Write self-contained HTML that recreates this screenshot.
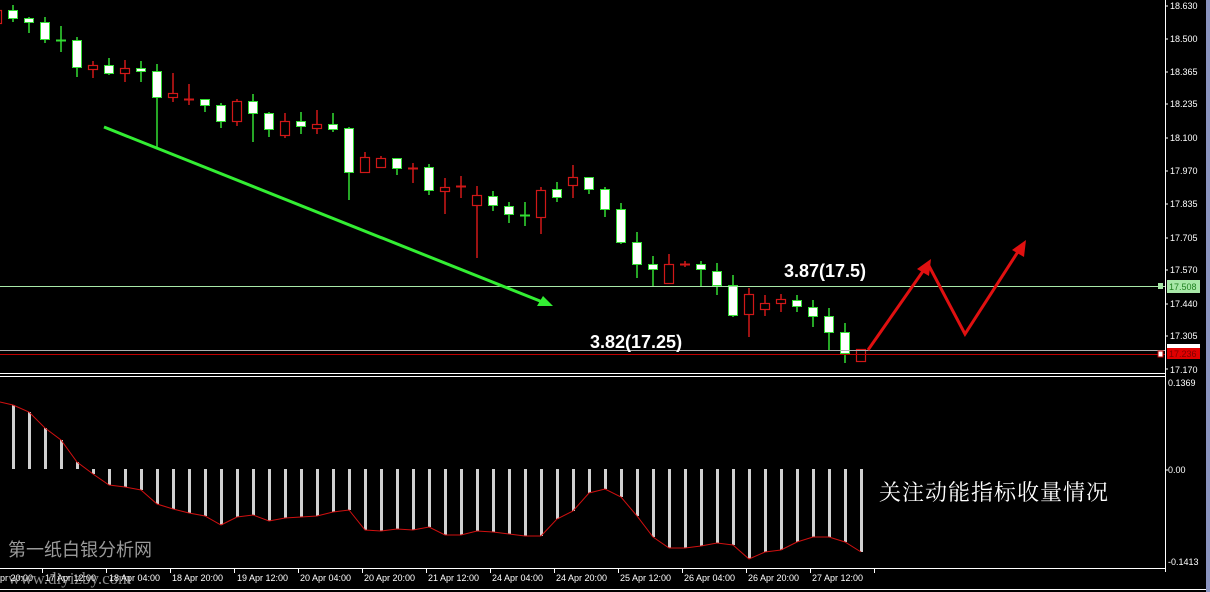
<!DOCTYPE html>
<html><head><meta charset="utf-8"><style>
html,body{margin:0;padding:0;background:#000;}
svg{display:block;font-family:"Liberation Sans","Noto Sans CJK SC",sans-serif;}
</style></head><body>
<svg id="s" width="1210" height="592" viewBox="0 0 1210 592" xmlns="http://www.w3.org/2000/svg">
<rect width="1210" height="592" fill="#000"/>
<rect x="1206" y="0" width="4" height="592" fill="#8c94c0"/>
<g id="hist"></g>
<g id="cand"></g>
<line x1="0" y1="286.5" x2="1165" y2="286.5" stroke="#a8e8a8" stroke-width="1"/>
<line x1="0" y1="350.5" x2="1165" y2="350.5" stroke="#b0b0b0" stroke-width="1"/>
<line x1="0" y1="354.5" x2="1165" y2="354.5" stroke="#c00000" stroke-width="1"/>
<rect x="1158" y="283" width="5" height="6" fill="#a8e8a8"/>
<rect x="1158" y="351" width="5" height="6" fill="#fff" stroke="#c00000"/>
<line x1="1165.5" y1="0" x2="1165.5" y2="572" stroke="#fff"/>
<line x1="0" y1="373.5" x2="1165" y2="373.5" stroke="#fff"/>
<line x1="0" y1="376.5" x2="1165" y2="376.5" stroke="#fff"/>
<line x1="0" y1="568.5" x2="1165" y2="568.5" stroke="#fff"/>
<line x1="0" y1="589.5" x2="1206" y2="589.5" stroke="#fff"/>
<line x1="104" y1="127" x2="545" y2="303" stroke="#33ee33" stroke-width="3"/>
<polygon points="553,306 537,306 543,296" fill="#33ee33"/>
<polyline points="868,350 928,264 965,334 1021,247" fill="none" stroke="#e01010" stroke-width="3"/>
<polygon points="931,259 929,276 917,269" fill="#e01010"/>
<polygon points="1026,240 1024,257 1012,250" fill="#e01010"/>
<text x="784" y="277" fill="#fff" font-size="18" font-weight="bold">3.87(17.5)</text>
<text x="590" y="348" fill="#fff" font-size="18" font-weight="bold">3.82(17.25)</text>
<text x="879" y="500" fill="#fff" font-size="22" font-family="'Noto Serif CJK SC',serif" textLength="229">关注动能指标收量情况</text>
<text x="8" y="556" fill="#9a9a9a" font-size="18" textLength="144">第一纸白银分析网</text>
<text x="8" y="584" fill="#8a8a8a" font-size="17" font-family="'Liberation Serif',serif">www.diyizby.com</text>
<g fill="#fff" font-size="9">
<text x="1170" y="9">18.630</text>
<text x="1170" y="42">18.500</text>
<text x="1170" y="75">18.365</text>
<text x="1170" y="107">18.235</text>
<text x="1170" y="141">18.100</text>
<text x="1170" y="174">17.970</text>
<text x="1170" y="207">17.835</text>
<text x="1170" y="241">17.705</text>
<text x="1170" y="273">17.570</text>
<text x="1170" y="307">17.440</text>
<text x="1170" y="339">17.305</text>
<text x="1170" y="373">17.170</text>
<text x="1168" y="386">0.1369</text>
<text x="1168" y="473">0.00</text>
<text x="1168" y="565">-0.1413</text>
</g>
<g stroke="#fff">
<line x1="1165" y1="6" x2="1168" y2="6"/><line x1="1165" y1="39" x2="1168" y2="39"/><line x1="1165" y1="72" x2="1168" y2="72"/><line x1="1165" y1="104" x2="1168" y2="104"/><line x1="1165" y1="138" x2="1168" y2="138"/><line x1="1165" y1="171" x2="1168" y2="171"/><line x1="1165" y1="204" x2="1168" y2="204"/><line x1="1165" y1="238" x2="1168" y2="238"/><line x1="1165" y1="270" x2="1168" y2="270"/><line x1="1165" y1="304" x2="1168" y2="304"/><line x1="1165" y1="336" x2="1168" y2="336"/><line x1="1165" y1="369" x2="1168" y2="369"/><line x1="1165" y1="470" x2="1168" y2="470"/>
</g>
<rect x="1167" y="280" width="33" height="13" fill="#a8e8a8"/>
<text x="1169" y="290" fill="#208020" font-size="9">17.508</text>
<rect x="1167" y="344" width="33" height="5" fill="#fff"/>
<rect x="1167" y="348" width="33" height="11" fill="#e00000"/>
<text x="1169" y="357" fill="#800000" font-size="9">17.236</text>
<g fill="#fff" font-size="9">
<text x="-6" y="581">Apr 20:00</text>
<text x="45" y="581">17 Apr 12:00</text>
<text x="109" y="581">18 Apr 04:00</text>
<text x="172" y="581">18 Apr 20:00</text>
<text x="237" y="581">19 Apr 12:00</text>
<text x="300" y="581">20 Apr 04:00</text>
<text x="364" y="581">20 Apr 20:00</text>
<text x="428" y="581">21 Apr 12:00</text>
<text x="492" y="581">24 Apr 04:00</text>
<text x="556" y="581">24 Apr 20:00</text>
<text x="620" y="581">25 Apr 12:00</text>
<text x="684" y="581">26 Apr 04:00</text>
<text x="748" y="581">26 Apr 20:00</text>
<text x="812" y="581">27 Apr 12:00</text>
</g>
<g id="ticks" stroke="#fff"></g>
</svg>
<script>
var NS="http://www.w3.org/2000/svg";
function el(p,t,a){var e=document.createElementNS(NS,t);for(var k in a)e.setAttribute(k,a[k]);p.appendChild(e);return e;}
var tk=document.getElementById('ticks');
for(var x=42;x<880;x+=64){el(tk,'line',{x1:x+.5,y1:568,x2:x+.5,y2:573});}
var hy=[405,412,428,440,462,474,485,487,490,504,509,513,516,525,517,515,521,518,517,516,512,510,530,531,529,530,527,535,535,531,532,534,536,536,519,511,493,489,497,516,537,548,548,546,543,545,559,552,550,542,537,537,542,552];
var h=document.getElementById('hist');var pts=[];
for(var i=0;i<hy.length;i++){var x=13+16*i;var y=hy[i];
 el(h,'rect',{x:x-1,y:(y<469?y:469),width:3,height:Math.abs(y-469),fill:'#d0d0d0'});pts.push(x+','+y);}
el(h,'polyline',{points:'0,402 '+pts.join(' '),fill:'none',stroke:'#d01010','stroke-width':1});
var C=[[-3,'r',10,23,6,24],[13,'w',10,18,5,22],[29,'w',18,22,17,33],[45,'w',22,39,17,43],[61,'g',40,40,26,52],[77,'w',40,67,37,77],[93,'r',65,69,61,78],[109,'w',65,73,58,75],[125,'r',68,73,60,82],[141,'w',68,71,61,82],[157,'w',71,97,64,148],[173,'r',93,97,73,102],[189,'rc',99,99,84,105],[205,'w',99,105,99,112],[221,'w',105,121,103,128],[237,'r',101,121,99,126],[253,'w',101,113,94,142],[269,'w',113,129,112,137],[285,'r',121,135,113,138],[301,'w',121,126,112,134],[317,'r',124,128,110,134],[333,'w',124,129,113,132],[349,'w',128,172,127,200],[365,'r',157,172,152,172],[381,'r',158,167,156,168],[397,'w',158,168,158,175],[413,'rc',168,168,163,183],[429,'w',167,190,164,195],[445,'r',187,191,178,214],[461,'rc',186,186,176,198],[477,'r',195,205,186,258],[493,'w',196,205,191,211],[509,'w',206,214,202,223],[525,'g',215,215,202,226],[541,'r',190,217,187,234],[557,'w',189,197,182,202],[573,'r',177,185,165,198],[589,'w',177,189,177,194],[605,'w',189,209,187,217],[621,'w',209,242,203,244],[637,'w',242,264,232,278],[653,'w',264,269,256,287],[669,'r',264,283,254,283],[685,'rc',264,264,261,267],[701,'w',264,269,261,287],[717,'w',271,285,263,295],[733,'w',285,315,275,317],[749,'r',294,314,288,337],[765,'r',303,309,295,316],[781,'r',299,303,294,312],[797,'w',300,306,295,312],[813,'w',307,316,300,327],[829,'w',316,332,308,351],[845,'w',332,353,323,363],[861,'r',349,361,349,361]];
var g=document.getElementById('cand');
C.forEach(function(c){var x=c[0],wc=(c[1]=='r'||c[1]=='rc')?'#d01818':'#33dd33';
 el(g,'line',{x1:x,y1:c[4],x2:x,y2:c[5],stroke:wc,'stroke-width':1.5});
 if(c[1]=='g'||c[1]=='rc'){el(g,'line',{x1:x-5,y1:c[2]+.5,x2:x+5,y2:c[2]+.5,stroke:wc,'stroke-width':2});}
 else if(c[1]=='w'){el(g,'rect',{x:x-4.5,y:c[2]+.5,width:9,height:Math.max(c[3]-c[2],2),fill:'#fff',stroke:'#33dd33','stroke-width':1});}
 else {el(g,'rect',{x:x-4.5,y:c[2]+.5,width:9,height:Math.max(c[3]-c[2],2),fill:'#000',stroke:'#d01818','stroke-width':1.2});}
});
</script>
</body></html>
